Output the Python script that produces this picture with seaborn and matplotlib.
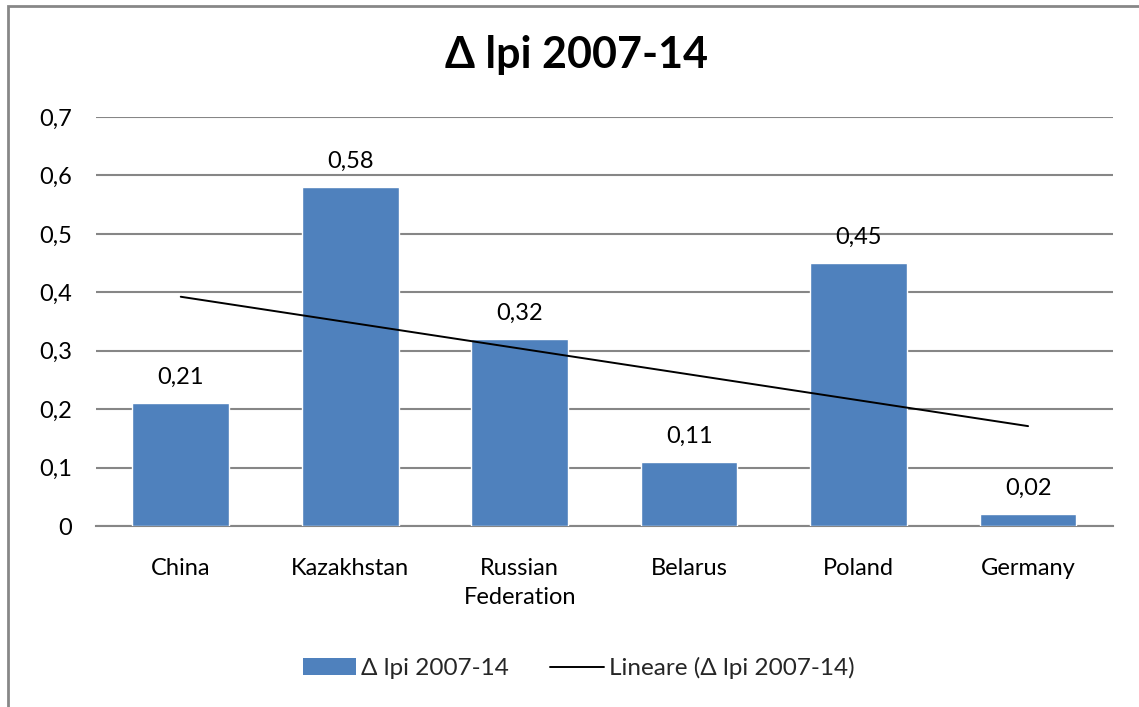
import numpy as np
import pandas as pd
import matplotlib
matplotlib.use("Agg")
import matplotlib.pyplot as plt
from matplotlib.patches import Rectangle, Patch
from matplotlib.lines import Line2D
from matplotlib.ticker import FuncFormatter
import seaborn as sns

countries = ["China", "Kazakhstan", "Russian\nFederation", "Belarus", "Poland", "Germany"]
delta_lpi = [0.21, 0.58, 0.32, 0.11, 0.45, 0.02]
y_ticks = [0, 0.1, 0.2, 0.3, 0.4, 0.5, 0.6, 0.7]
series_name = "Δ lpi 2007-14"
trend_name = "Lineare (Δ lpi 2007-14)"

sns.set_theme(style="white")
plt.rcParams["font.family"] = ["Lato", "DejaVu Sans"]

bar_color = "#4F81BD"
grid_color = "#868686"
fs = 17

fig = plt.figure(figsize=(11.39, 7.07), dpi=100)
ax = fig.add_axes([0.0843, 0.256, 0.8927, 0.5785])

df = pd.DataFrame({"country": countries, "value": delta_lpi})
sns.barplot(data=df, x="country", y="value", color=bar_color, width=0.57,
            saturation=1, ax=ax, zorder=3)

# linear trend line over the category positions
xs = np.arange(len(delta_lpi))
slope, intercept = np.polyfit(xs + 1, delta_lpi, 1)
ax.plot(xs, slope * (xs + 1) + intercept, color="black", lw=1.4, zorder=4)

# value labels
for x, v in zip(xs, delta_lpi):
    ax.text(x, v + 0.026, f"{v:.2f}".replace(".", ","), ha="center", va="bottom",
            fontsize=fs, color="black", zorder=5)

ax.set_ylim(0, 0.7)
ax.set_xlim(-0.5, len(countries) - 0.5)
ax.set_yticks(y_ticks)
ax.yaxis.set_major_formatter(FuncFormatter(lambda v, p: "0" if v == 0 else f"{v:.1f}".replace(".", ",")))
ax.yaxis.grid(True, color=grid_color, lw=1.5, zorder=0)
ax.set_axisbelow(True)
for s in ["top", "right", "left"]:
    ax.spines[s].set_visible(False)
ax.spines["bottom"].set_color(grid_color)
ax.spines["bottom"].set_linewidth(1.5)
ax.tick_params(axis="y", length=0, pad=17, labelsize=fs, colors="black")
ax.tick_params(axis="x", length=0, pad=23, labelsize=fs, colors="black")
for lbl in ax.get_xticklabels():
    lbl.set_linespacing(1.5)
ax.set_xlabel("")
ax.set_ylabel("")

fig.text(0.506, 0.922, series_name, ha="center", va="center", fontsize=31,
         fontweight="bold", color="black")

handles = [Patch(facecolor=bar_color, edgecolor="none"),
           Line2D([0], [0], color="black", lw=1.4)]
fig.legend(handles, [series_name, trend_name], loc="center", bbox_to_anchor=(0.508, 0.055),
           ncol=2, frameon=False, fontsize=17.5, handlelength=2.2, handleheight=0.7,
           handletextpad=0.2, columnspacing=1.7)

# outer chart frame
fig.patches.append(Rectangle((8 / 1139, -0.1), 1.2, 1.1 - 6 / 707, transform=fig.transFigure,
                             fill=False, edgecolor="#878787", lw=2, zorder=10))

fig.savefig("out.png", dpi=100)
